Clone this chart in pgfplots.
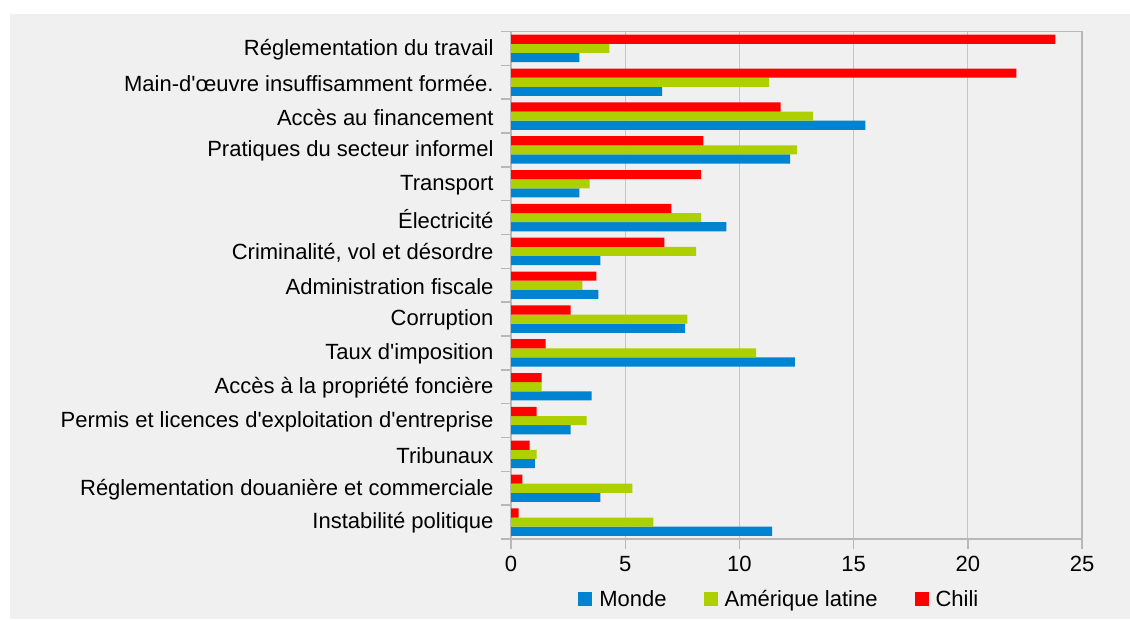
\documentclass[border=0pt]{standalone}
\usepackage{fontspec}
\setmainfont{Liberation Sans}[Ligatures=TeXOff]
\usepackage{pgfplots}
\pgfplotsset{compat=1.18}
\definecolor{cblue}{HTML}{0084D1}
\definecolor{cgreen}{HTML}{AECF00}
\definecolor{cred}{HTML}{FF0000}
\definecolor{bggrey}{HTML}{F0F0F0}
\definecolor{axgrey}{HTML}{B8B8B8}
\definecolor{gridgrey}{HTML}{C6C6C6}
\begin{document}
\begin{tikzpicture}[font=\fontsize{22}{26}\selectfont]
\fill[white] (0pt,0pt) rectangle (1130pt,619pt);
\fill[bggrey] (10pt,0pt) rectangle (1130pt,605pt);
\begin{axis}[
  at={(511pt,80pt)}, anchor=south west,
  scale only axis, width=571pt, height=507.5pt,
  xbar, bar width=0.27,
  xmin=0, xmax=25, ymin=-0.5, ymax=14.5,
  xtick={0,5,...,25},
  xtick pos=bottom, ytick pos=left,
  /pgf/number format/assume math mode=true,
  xmajorgrids, grid style={gridgrey, line width=1.2pt},
  axis line style={axgrey, line width=1.4pt},
  tick align=outside, major tick length=10pt,
  tick style={axgrey, line width=1.4pt},
  xticklabel style={yshift=-4pt},
  ytick={-0.5,0.5,...,14.5}, yticklabels={},
  extra y ticks={0,1,...,14},
  extra y tick labels={Instabilité politique,Réglementation douanière et commerciale,Tribunaux,Permis et licences d'exploitation d'entreprise,Accès à la propriété foncière,Taux d'imposition,Corruption,Administration fiscale,{Criminalité, vol et désordre},Électricité,Transport,Pratiques du secteur informel,Accès au financement,Main-d'œuvre insuffisamment formée.,Réglementation du travail},
  extra y tick style={major tick length=0pt, tick style={draw=none}, yticklabel style={xshift=-14pt, yshift=-1pt}},
  legend columns=3,
  legend style={at={(0.47,-0.118)}, anchor=center, draw=none, fill=none,
    /tikz/every even column/.append style={column sep=35pt}},
  legend image code/.code={\fill[#1] (0pt,-7pt) rectangle (14pt,7pt); \path (19pt,0pt);},
]
\addplot[fill=cblue, draw=none, bar shift=-0.27] coordinates {
(11.43,0) (3.91,1) (1.04,2) (2.61,3) (3.53,4) (12.43,5) (7.62,6) (3.83,7) (3.91,8) (9.43,9) (2.99,10) (12.22,11) (15.52,12) (6.62,13) (2.99,14)};
\addplot[fill=cgreen, draw=none, bar shift=0] coordinates {
(6.23,0) (5.31,1) (1.12,2) (3.31,3) (1.34,4) (10.73,5) (7.72,6) (3.12,7) (8.10,8) (8.32,9) (3.44,10) (12.52,11) (13.22,12) (11.30,13) (4.31,14)};
\addplot[fill=cred, draw=none, bar shift=0.27] coordinates {
(0.33,0) (0.50,1) (0.82,2) (1.12,3) (1.34,4) (1.52,5) (2.61,6) (3.74,7) (6.72,8) (7.02,9) (8.32,10) (8.42,11) (11.81,12) (22.13,13) (23.83,14)};
\legend{Monde,Amérique latine,Chili}
\end{axis}
\end{tikzpicture}
\end{document}
